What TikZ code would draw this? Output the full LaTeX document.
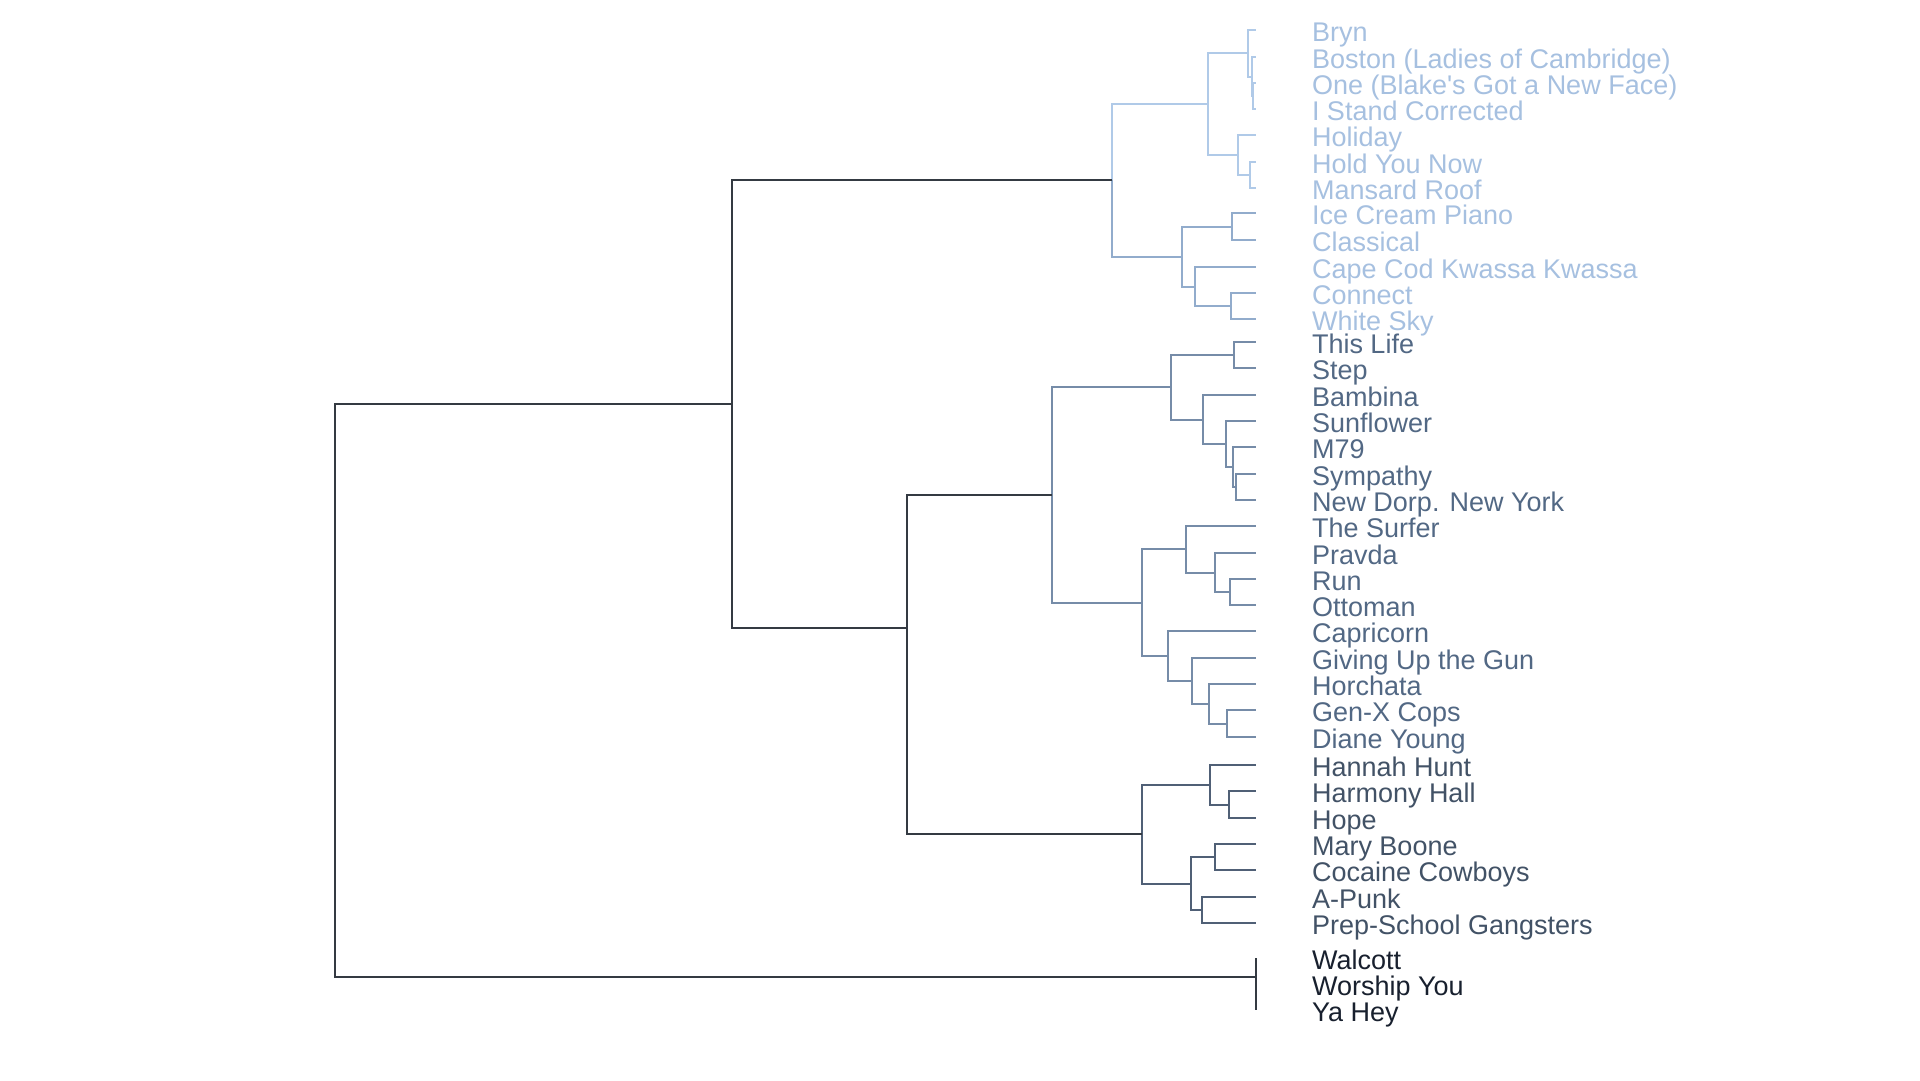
\documentclass[tikz,border=0pt]{standalone}
\usepackage{fontspec}
\setmainfont{Liberation Sans}
\definecolor{toptext}{RGB}{166,192,224}
\definecolor{topline}{RGB}{176,202,232}
\definecolor{topline2}{RGB}{146,172,204}
\definecolor{midtext}{RGB}{82,104,132}
\definecolor{midline}{RGB}{118,140,168}
\definecolor{lowtext}{RGB}{66,82,102}
\definecolor{lowline}{RGB}{80,96,118}
\definecolor{bottext}{RGB}{24,32,46}
\definecolor{trunkcol}{RGB}{52,58,66}

\begin{document}
\begin{tikzpicture}[x=1pt,y=-1pt,line width=2pt,
    elbow/.style={to path={|- (\tikztotarget)}},
    toplbl/.style={anchor=base west,inner sep=0pt,text=toptext,font=\fontsize{27}{30}\selectfont},
    midlbl/.style={toplbl,text=midtext},
    lowlbl/.style={toplbl,text=lowtext},
    botlbl/.style={toplbl,text=bottext},
    topln/.style={elbow,draw=topline},
    topln2/.style={elbow,draw=topline2},
    midln/.style={elbow,draw=midline},
    lowln/.style={elbow,draw=lowline},
    trunk/.style={elbow,draw=trunkcol}]

  \useasboundingbox (0,0) rectangle (1920,1080);

  % leaves and their labels
  \foreach \leaf/\yy/\txt/\sty in {
      bryn/30/Bryn/toplbl, boston/57/Boston (Ladies of Cambridge)/toplbl,
      one/83/One (Blake\textquotesingle s Got a New Face)/toplbl, istand/109/I Stand Corrected/toplbl,
      holiday/135/Holiday/toplbl, holdyou/162/Hold You Now/toplbl,
      mansard/188/Mansard Roof/toplbl, icecream/213/Ice Cream Piano/toplbl,
      classical/240/Classical/toplbl, capecod/267/Cape Cod Kwassa Kwassa/toplbl,
      connect/293/Connect/toplbl, whitesky/319/White Sky/toplbl,
      thislife/342/This Life/midlbl, step/368/Step/midlbl,
      bambina/395/Bambina/midlbl, sunflower/421/Sunflower/midlbl,
      m79/447/M79/midlbl, sympathy/474/Sympathy/midlbl,
      newdorp/500/New Dorp. New York/midlbl, surfer/526/The Surfer/midlbl,
      pravda/553/Pravda/midlbl, run/579/Run/midlbl,
      ottoman/605/Ottoman/midlbl, capricorn/631/Capricorn/midlbl,
      giving/658/Giving Up the Gun/midlbl, horchata/684/Horchata/midlbl,
      genx/710/Gen-X Cops/midlbl, diane/737/Diane Young/midlbl,
      hannah/765/Hannah Hunt/lowlbl, harmony/791/Harmony Hall/lowlbl,
      hope/818/Hope/lowlbl, mary/844/Mary Boone/lowlbl,
      cocaine/870/Cocaine Cowboys/lowlbl, apunk/897/A-Punk/lowlbl,
      prep/923/Prep-School Gangsters/lowlbl,
      walcott/958/Walcott/botlbl, worship/984/Worship You/botlbl,
      yahey/1010/Ya Hey/botlbl}{
    \coordinate (\leaf) at (1256,\yy);
    \node[\sty] (\leaf-l) at ([shift={(55,11)}]\leaf) {\txt};
  }

  % merge points
  \coordinate (k)  at (1253,96);
  \coordinate (j)  at (1252,76.5);
  \coordinate (i)  at (1248,53);
  \coordinate (m)  at (1250,175);
  \coordinate (l)  at (1238,155);
  \coordinate (h)  at (1208,104);
  \coordinate (o)  at (1232,226.5);
  \coordinate (q)  at (1231,306);
  \coordinate (p)  at (1195,286.5);
  \coordinate (n)  at (1182,256.5);
  \coordinate (b)  at (1112,180);
  \coordinate (r)  at (1234,355);
  \coordinate (v)  at (1236,487);
  \coordinate (u)  at (1233,467);
  \coordinate (t)  at (1226,444);
  \coordinate (s)  at (1203,419.5);
  \coordinate (e)  at (1171,387);
  \coordinate (y)  at (1230,592);
  \coordinate (x)  at (1215,572.5);
  \coordinate (w)  at (1186,549);
  \coordinate (ac) at (1227,723.5);
  \coordinate (ab) at (1209,704);
  \coordinate (aa) at (1192,681);
  \coordinate (z)  at (1168,656);
  \coordinate (f)  at (1142,602.5);
  \coordinate (c)  at (1052,495);
  \coordinate (ae) at (1229,804.5);
  \coordinate (ad) at (1210,785);
  \coordinate (ag) at (1215,857);
  \coordinate (ah) at (1202,910);
  \coordinate (af) at (1191,883.5);
  \coordinate (g)  at (1142,834);
  \coordinate (d)  at (907,628);
  \coordinate (a)  at (732,404);
  \coordinate (wg) at (1256,977);
  \coordinate (root) at (335,690);

  \path (k) edge[topln] (one)      (k) edge[topln] (istand)
        (j) edge[topln] (boston)   (j) edge[topln] (k)
        (i) edge[topln] (bryn)     (i) edge[topln] (j)
        (m) edge[topln] (holdyou)  (m) edge[topln] (mansard)
        (l) edge[topln] (holiday)  (l) edge[topln] (m)
        (h) edge[topln] (i)        (h) edge[topln] (l)
        (b) edge[topln] (h);

  \path (o) edge[topln2] (icecream) (o) edge[topln2] (classical)
        (q) edge[topln2] (connect)  (q) edge[topln2] (whitesky)
        (p) edge[topln2] (capecod)  (p) edge[topln2] (q)
        (n) edge[topln2] (o)        (n) edge[topln2] (p)
        (b) edge[topln2] (n);

  \path (r) edge[midln] (thislife)  (r) edge[midln] (step)
        (v) edge[midln] (sympathy)  (v) edge[midln] (newdorp)
        (u) edge[midln] (m79)       (u) edge[midln] (v)
        (t) edge[midln] (sunflower) (t) edge[midln] (u)
        (s) edge[midln] (bambina)   (s) edge[midln] (t)
        (e) edge[midln] (r)         (e) edge[midln] (s)
        (y) edge[midln] (run)       (y) edge[midln] (ottoman)
        (x) edge[midln] (pravda)    (x) edge[midln] (y)
        (w) edge[midln] (surfer)    (w) edge[midln] (x)
        (ac) edge[midln] (genx)     (ac) edge[midln] (diane)
        (ab) edge[midln] (horchata) (ab) edge[midln] (ac)
        (aa) edge[midln] (giving)   (aa) edge[midln] (ab)
        (z) edge[midln] (capricorn) (z) edge[midln] (aa)
        (f) edge[midln] (w)         (f) edge[midln] (z)
        (c) edge[midln] (e)         (c) edge[midln] (f);

  \path (ae) edge[lowln] (harmony)  (ae) edge[lowln] (hope)
        (ad) edge[lowln] (hannah)   (ad) edge[lowln] (ae)
        (ag) edge[lowln] (mary)     (ag) edge[lowln] (cocaine)
        (ah) edge[lowln] (apunk)    (ah) edge[lowln] (prep)
        (af) edge[lowln] (ag)       (af) edge[lowln] (ah)
        (g) edge[lowln] (ad)        (g) edge[lowln] (af);

  \path (d) edge[trunk] (c)       (d) edge[trunk] (g)
        (a) edge[trunk] (b)       (a) edge[trunk] (d)
        (root) edge[trunk] (a)    (root) edge[trunk] (wg)
        (wg) edge[trunk] (walcott) (wg) edge[trunk] (yahey);

\end{tikzpicture}
\end{document}
